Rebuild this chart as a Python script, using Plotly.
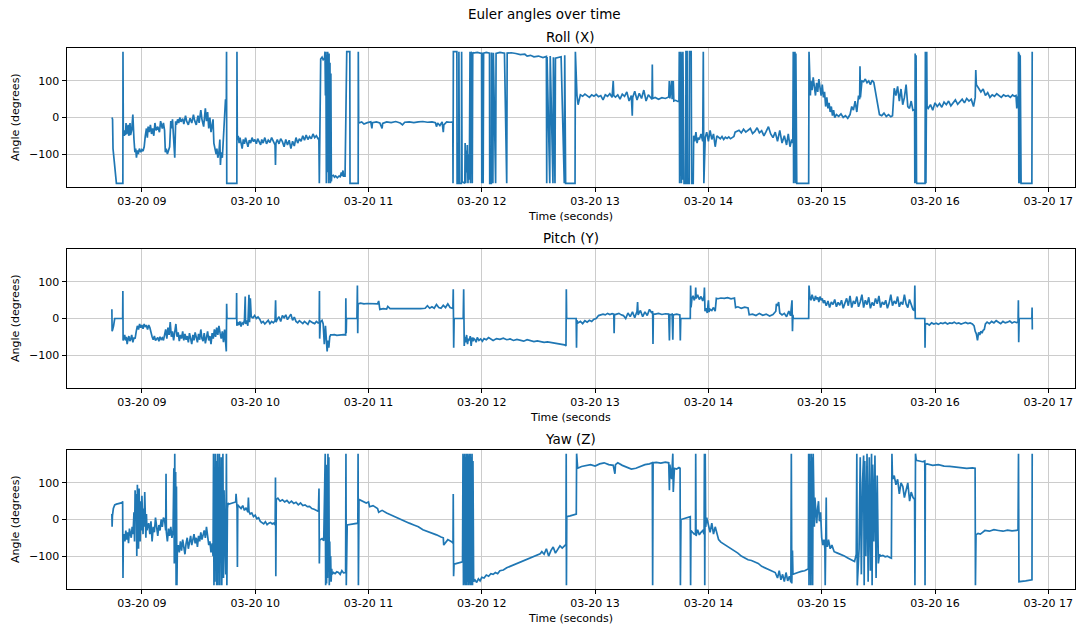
import pandas as pd
import plotly.graph_objects as go

# ---------------- data (time in decimal hours on 03-20, angles in degrees) ----------------
roll_hours = [
    8.736, 8.741, 8.745, 8.775, 8.832, 8.833, 8.836,
    8.845, 8.850, 8.855, 8.860, 8.865, 8.872, 8.878, 8.884, 8.890, 8.895, 8.900, 8.910, 8.920, 8.925,
    8.930, 8.938, 8.945, 8.952, 8.960, 8.968, 8.978, 8.990, 9.000, 9.010, 9.020,
    9.030, 9.040, 9.048, 9.055, 9.065, 9.075, 9.085, 9.095, 9.105, 9.115, 9.125, 9.140, 9.155, 9.165, 9.180, 9.190, 9.200,
    9.207, 9.215, 9.225, 9.235, 9.245, 9.255, 9.262, 9.270, 9.280, 9.290, 9.298,
    9.305, 9.315, 9.325, 9.335, 9.345, 9.360, 9.370, 9.385, 9.395, 9.410,
    9.425, 9.440, 9.455, 9.465, 9.480, 9.495, 9.505, 9.520, 9.530,
    9.545, 9.560, 9.570, 9.580, 9.590, 9.600, 9.610, 9.620,
    9.628, 9.635, 9.645, 9.655, 9.662, 9.670, 9.680, 9.688, 9.693, 9.700, 9.710, 9.718, 9.725, 9.732, 9.738,
    9.745, 9.747, 9.749, 9.838, 9.839, 9.842,
    9.850, 9.858, 9.866, 9.875, 9.885, 9.895, 9.905, 9.915, 9.925, 9.936,
    9.948, 9.960, 9.972, 9.985, 9.997, 10.010, 10.022, 10.035, 10.048, 10.058,
    10.070, 10.085, 10.100, 10.115, 10.130, 10.145, 10.160, 10.175, 10.179, 10.183,
    10.195, 10.210, 10.225, 10.240, 10.255, 10.270, 10.285, 10.300, 10.315, 10.330,
    10.345, 10.360, 10.375, 10.390, 10.405, 10.420, 10.435, 10.450, 10.465, 10.480,
    10.495, 10.510, 10.525, 10.540, 10.558,
    10.562, 10.566, 10.578, 10.590, 10.600, 10.612, 10.616, 10.620, 10.624, 10.628,
    10.632, 10.636, 10.640, 10.644, 10.648, 10.652, 10.656, 10.660, 10.664, 10.668, 10.672, 10.676,
    10.690, 10.700, 10.710, 10.725, 10.740, 10.750, 10.760, 10.765, 10.775, 10.780,
    10.793, 10.808, 10.835, 10.837, 10.909, 10.910, 10.913,
    10.940, 10.960, 10.990, 11.020, 11.030, 11.035, 11.070, 11.100, 11.120, 11.125,
    11.160, 11.200, 11.240, 11.280, 11.300, 11.320, 11.360, 11.400, 11.440, 11.480,
    11.520, 11.560, 11.590, 11.600, 11.610, 11.630, 11.650, 11.660, 11.665, 11.690,
    11.720, 11.744,
    11.746, 11.749, 11.780, 11.782, 11.796, 11.798, 11.802, 11.820, 11.822, 11.826,
    11.850, 11.853, 11.858, 11.862, 11.868, 11.872, 11.878, 11.884, 11.890, 11.896,
    11.900, 11.906, 11.910, 11.916, 11.920,
    11.925, 11.960, 11.998, 12.000, 12.004, 12.012, 12.016, 12.040, 12.068, 12.070,
    12.084, 12.086, 12.098, 12.102, 12.122, 12.126, 12.160, 12.200, 12.220, 12.224,
    12.260, 12.300, 12.340, 12.380, 12.400, 12.430, 12.460, 12.500, 12.540, 12.570,
    12.573, 12.576, 12.600, 12.604, 12.628, 12.632, 12.646, 12.650, 12.700, 12.728,
    12.732, 12.740, 12.823, 12.826, 12.840,
    12.850, 12.870, 12.890, 12.910, 12.930, 12.950, 12.970, 12.990, 13.010, 13.030,
    13.050, 13.070, 13.090, 13.110, 13.130, 13.150, 13.160, 13.165, 13.180, 13.200,
    13.220, 13.240, 13.260, 13.280, 13.300, 13.320, 13.328, 13.332, 13.350, 13.370,
    13.390, 13.410, 13.430, 13.450, 13.470, 13.490, 13.502, 13.505, 13.508, 13.530,
    13.560, 13.590, 13.620, 13.650, 13.655, 13.660, 13.676, 13.680, 13.690, 13.695,
    13.710, 13.730, 13.740,
    13.743, 13.746, 13.750, 13.754, 13.758, 13.762, 13.766, 13.770, 13.775, 13.780,
    13.785, 13.800, 13.802, 13.812, 13.815, 13.830, 13.833, 13.848, 13.852, 13.866,
    13.870, 13.880, 13.890, 13.900, 13.910, 13.920, 13.935, 13.950, 13.955, 13.960,
    13.968, 13.972,
    13.985, 14.000, 14.015, 14.030, 14.045, 14.060, 14.075, 14.090, 14.105, 14.120,
    14.135, 14.150, 14.165, 14.180, 14.195, 14.210, 14.225, 14.236, 14.250, 14.270,
    14.290, 14.310, 14.330, 14.350, 14.370, 14.390, 14.410, 14.430, 14.450, 14.470,
    14.490, 14.510, 14.530, 14.550, 14.570, 14.590, 14.610, 14.630, 14.650, 14.670,
    14.690, 14.705, 14.720, 14.735, 14.745,
    14.749, 14.752, 14.756, 14.760, 14.764, 14.768, 14.772, 14.776, 14.780, 14.885,
    14.888, 14.900,
    14.905, 14.915, 14.925, 14.935, 14.945, 14.955, 14.965, 14.975, 14.985, 14.995,
    15.005, 15.015, 15.025, 15.035, 15.045, 15.055, 15.065, 15.075, 15.085, 15.095,
    15.105, 15.115, 15.130, 15.150, 15.170, 15.190, 15.210, 15.230, 15.250, 15.265,
    15.280, 15.295, 15.310, 15.325, 15.335, 15.338, 15.342, 15.355, 15.370, 15.385,
    15.400, 15.415, 15.430, 15.445, 15.460, 15.475, 15.490, 15.500, 15.510, 15.530,
    15.550, 15.570, 15.590, 15.610, 15.625, 15.640, 15.655, 15.670, 15.685, 15.700,
    15.715, 15.730, 15.745, 15.760, 15.775, 15.790, 15.805, 15.820,
    15.822, 15.825, 15.829, 15.833, 15.837, 15.840, 15.912, 15.915, 15.920, 15.927,
    15.930,
    15.940, 15.960, 15.980, 16.000, 16.020, 16.040, 16.060, 16.080, 16.100, 16.120,
    16.140, 16.160, 16.180, 16.200, 16.220, 16.240, 16.260, 16.280, 16.300, 16.320,
    16.340, 16.355, 16.360, 16.365, 16.385, 16.405, 16.425, 16.445, 16.465, 16.485,
    16.505, 16.525, 16.545, 16.565, 16.585, 16.605, 16.625, 16.645, 16.665, 16.685,
    16.700, 16.715, 16.722, 16.730, 16.736,
    16.737, 16.740, 16.744, 16.748, 16.752, 16.756, 16.760, 16.855, 16.858,
]
roll_deg = [
    0, -5, -85, -180, -180, 180, -40,
    -50, -35, -48, -15, -45, -40, -20, -50, -42, -15, -48, -35, 8, -45,
    -60, -95, -85, -110, -90, -100, -85, -95, -88, -92, -80,
    -50, -30, -55, -25, -40, -20, -45, -30, -50, -15, -35, -25, -40, -10, -30, -15, -35,
    -95, -85, -100, -90, -80, -10, -30, -5, -60, -110, -10,
    -20, -5, -15, 0, -12, -3, -18, 5, -10, -20,
    -2, -15, 8, -8, -20, 5, -15, 20, -5,
    -25, 25, -10, 15, -30, 0, -40, -25,
    -5, -70, -90, -100, -85, -110, -95, -60, -130, -95, -110, -60, -20, 10, 50,
    30, 180, -180, -180, 180, -60,
    -50, -70, -55, -68, -85, -60, -72, -55, -65, -80,
    -62, -70, -55, -66, -60, -72, -58, -68, -75, -60,
    -70, -55, -72, -62, -68, -55, -65, -75, -130, -70,
    -60, -72, -58, -66, -80, -60, -75, -62, -85, -65,
    -78, -55, -70, -58, -65, -50, -62, -48, -60, -52,
    -58, -45, -55, -50, -60,
    -55, -180, 160, 165, 158, 162, 180, 60, 180, -180,
    170, -150, 180, 100, -180, 175, -170, 150, -180, 120, -175, -160,
    -158, -163, -160, -165, -160, -162, -150, -160, -145, -160,
    -160, 180, 180, -180, -180, 180, -15,
    -12, -18, -14, -12, -30, -14, -12, -15, -30, -16,
    -12, -14, -11, -15, -20, -13, -12, -14, -12, -11,
    -13, -12, -14, -25, -15, -22, -12, -40, -20, -12,
    -13, -12,
    -180, 180, 180, -180, -180, 180, -180, -180, 180, -175,
    -180, -70, -180, -90, -150, -75, -180, -100, -170, 180,
    -180, 180, 175, -180, 178,
    176, 178, 175, -180, 178, -180, 176, 178, 176, -180,
    -180, 178, -180, 177, -180, 175, 178, 176, -180, 176,
    177, 175, 172, 173, 168, 170, 166, 168, 164, 167,
    -180, 165, -180, 168, -180, 165, -180, 162, 166, -180,
    170, -180, -180, 180, 60,
    35, 62, 58, 64, 60, 55, 62, 58, 63, 57,
    60, 48, 62, 58, 65, 55, 100, 60, 56, 62,
    50, 64, 58, 70, 45, 60, 5, 55, 72, 48,
    66, 52, 75, 45, 62, 55, 50, 145, 52, 55,
    50, 54, 52, 56, 100, 52, 100, 50, 100, 45,
    47, 44, 45,
    180, -180, 170, -160, 180, -180, 175, -170, 180, -180,
    -180, -180, 180, 180, -180, -180, 180, 180, -180, -180,
    -50, -65, -40, -70, -55, -60, -45, -65, 180, -180,
    -110, -55,
    -40, -65, -35, -60, -45, -80, -50, -55, -58, -52,
    -60, -54, -57, -53, -58, -55, -52, -40, -38, -35,
    -42, -32, -40, -36, -30, -44, -38, -28, -42, -36,
    -50, -38, -25, -45, -55, -40, -65, -35, -70, -50,
    -75, -45, -80, -60, -70,
    180, -180, 170, -170, 180, -180, 175, -180, -180, -180,
    180, 60,
    100, 75, 110, 85, 60, 95, 70, 105, 80, 60,
    90, 55, 70, 30, 55, 25, 40, 15, 30, 5,
    20, 0, 8, 3, 10, 0, 5, -2, 8, 30,
    20, 45, 15, 60, 50, 140, 55, 100, 98, 105,
    95, 100, 90, 102, 96, 70, 40, 20, 8, 5,
    12, 3, 8, 2, 5, 80, 60, 85, 45, 78,
    35, 55, 90, 30, 25, 45, 20, 22,
    -180, 175, -180, 170, -175, -180, -180, 180, -180, 180,
    30,
    25, 35, 20, 40, 30, 38, 28, 42, 35, 45,
    32, 40, 48, 36, 44, 50, 40, 52, 45, 50,
    30, 55, 130, 90, 80, 70, 78, 60, 68, 55,
    62, 58, 65, 60, 55, 62, 58, 60, 55, 62,
    58, 60, 25, 55, 60,
    180, -180, 175, -180, 170, -180, -180, -180, 180,
]

pitch_hours = [
    8.735, 8.737, 8.742, 8.750, 8.760, 8.775, 8.800, 8.830, 8.832, 8.834,
    8.840, 8.848, 8.855, 8.862, 8.870, 8.878, 8.885, 8.893, 8.900, 8.910, 8.920, 8.930, 8.940,
    8.950, 8.960, 8.970, 8.980, 8.990, 9.000, 9.010, 9.020, 9.030, 9.040, 9.050, 9.060, 9.070, 9.080,
    9.09, 9.10, 9.11, 9.12, 9.13, 9.14, 9.15, 9.16, 9.17, 9.18, 9.19,
    9.20, 9.21, 9.22, 9.23, 9.24, 9.25, 9.26, 9.27, 9.28, 9.29, 9.30,
    9.31, 9.32, 9.33, 9.34, 9.35, 9.36, 9.37, 9.38, 9.39, 9.40, 9.41,
    9.42, 9.43, 9.44, 9.45, 9.46, 9.47, 9.48, 9.49, 9.50, 9.51, 9.52,
    9.53, 9.54, 9.55, 9.56, 9.57, 9.58, 9.59, 9.60, 9.61, 9.62, 9.63,
    9.64, 9.65, 9.66, 9.67, 9.68, 9.69, 9.70, 9.71, 9.72, 9.73,
    9.740, 9.745, 9.748, 9.751,
    9.760, 9.790, 9.820, 9.834, 9.836, 9.838, 9.845, 9.855, 9.865, 9.875,
    9.885, 9.895, 9.905, 9.912, 9.915, 9.925, 9.935, 9.945, 9.950, 9.957,
    9.965, 9.980, 9.995, 10.010, 10.025, 10.040, 10.055, 10.070, 10.085, 10.100,
    10.115, 10.130, 10.145, 10.160, 10.175, 10.180, 10.184, 10.195, 10.210, 10.225,
    10.240, 10.255, 10.270, 10.285, 10.300, 10.315, 10.330, 10.345, 10.360, 10.375,
    10.390, 10.405, 10.420, 10.435, 10.450, 10.465, 10.480, 10.495, 10.510, 10.525,
    10.540, 10.555, 10.565, 10.567, 10.569,
    10.575, 10.590, 10.600, 10.610, 10.620, 10.628, 10.635, 10.642, 10.650, 10.658,
    10.666, 10.680, 10.700, 10.720, 10.740, 10.760, 10.780, 10.798, 10.800, 10.803,
    10.806, 10.810, 10.840, 10.870, 10.898, 10.902, 10.905, 10.908,
    10.930, 10.960, 10.990, 11.020, 11.050, 11.080, 11.090, 11.095, 11.100, 11.130,
    11.160, 11.170, 11.190, 11.220, 11.260, 11.300, 11.340, 11.380, 11.420, 11.460,
    11.500, 11.520, 11.540, 11.560, 11.580, 11.600, 11.620, 11.640, 11.660, 11.680,
    11.700, 11.720, 11.740,
    11.745, 11.748, 11.752, 11.756, 11.800, 11.836, 11.840, 11.845, 11.850, 11.858,
    11.866, 11.874, 11.882, 11.890, 11.898, 11.906, 11.914, 11.922, 11.930, 11.940,
    11.950, 11.960, 11.975, 11.990, 12.005, 12.020, 12.040, 12.060, 12.080, 12.100,
    12.130, 12.160, 12.190, 12.220, 12.250, 12.280, 12.310, 12.340, 12.370, 12.400,
    12.430, 12.460, 12.490, 12.520, 12.550, 12.580, 12.610, 12.640, 12.670, 12.700,
    12.730, 12.743, 12.746, 12.749,
    12.790, 12.833, 12.836, 12.839, 12.850, 12.870, 12.890, 12.910, 12.930, 12.950,
    12.970, 12.990, 13.010, 13.030, 13.050, 13.070, 13.090, 13.110, 13.130, 13.150,
    13.165, 13.168, 13.171, 13.190, 13.210, 13.230, 13.250, 13.270, 13.290, 13.310,
    13.330, 13.350, 13.370, 13.375, 13.380, 13.400, 13.420, 13.440, 13.460, 13.480,
    13.500, 13.508, 13.511, 13.514, 13.530, 13.560, 13.590, 13.620, 13.650, 13.656,
    13.660, 13.680, 13.686, 13.690, 13.720, 13.748, 13.752, 13.756,
    13.800, 13.840, 13.843, 13.847, 13.855, 13.865, 13.875, 13.885, 13.888, 13.892,
    13.905, 13.920, 13.935, 13.950, 13.962, 13.965, 13.970, 13.980, 13.990, 14.000,
    14.005, 14.015, 14.030, 14.045, 14.060, 14.070, 14.085, 14.110, 14.140, 14.170,
    14.200, 14.230, 14.240, 14.260, 14.290, 14.320, 14.350, 14.360, 14.390, 14.420,
    14.450, 14.480, 14.510, 14.540, 14.570, 14.595, 14.600, 14.610, 14.620, 14.630,
    14.650, 14.670, 14.690, 14.710, 14.725, 14.738, 14.742, 14.746, 14.750, 14.800,
    14.850, 14.883,
    14.885, 14.888, 14.895, 14.905, 14.915, 14.925, 14.935, 14.945, 14.955, 14.965,
    14.975, 14.985, 14.995, 15.005, 15.015, 15.025, 15.040, 15.055, 15.070, 15.085,
    15.100, 15.115, 15.130, 15.145, 15.160, 15.175, 15.190, 15.205, 15.220, 15.235,
    15.250, 15.265, 15.280, 15.295, 15.310, 15.325, 15.340, 15.355, 15.370, 15.385,
    15.400, 15.415, 15.430, 15.445, 15.460, 15.475, 15.490, 15.505, 15.520, 15.535,
    15.550, 15.565, 15.580, 15.595, 15.610, 15.625, 15.640, 15.655, 15.670, 15.685,
    15.700, 15.715, 15.730, 15.745, 15.760, 15.775, 15.790, 15.805, 15.818, 15.822,
    15.826, 15.870, 15.910, 15.912, 15.915,
    15.930, 15.950, 15.970, 15.990, 16.010, 16.030, 16.050, 16.070, 16.090, 16.110,
    16.130, 16.150, 16.170, 16.190, 16.210, 16.230, 16.250, 16.270, 16.290, 16.310,
    16.330, 16.345, 16.355, 16.365, 16.375, 16.385, 16.395, 16.405, 16.415, 16.425,
    16.435, 16.445, 16.460, 16.480, 16.500, 16.520, 16.540, 16.560, 16.580, 16.600,
    16.620, 16.640, 16.660, 16.680, 16.700, 16.720, 16.733, 16.736, 16.739, 16.743,
    16.800, 16.855, 16.857, 16.859,
]
pitch_deg = [
    25, -35, -30, -20, 0, 0, 0, 0, 75, -60,
    -55, -45, -60, -50, -70, -55, -48, -62, -58, -45, -65, -52, -55,
    -35, -20, -30, -15, -25, -18, -28, -15, -22, -20, -30, -18, -25, -40,
    -50, -58, -48, -60, -55, -52, -62, -50, -57, -53, -60,
    -40, -30, -55, -25, -45, -10, -50, -35, -60, -40, -15,
    -50, -38, -62, -45, -55, -35, -60, -42, -58, -48, -65,
    -40, -55, -70, -45, -60, -38, -52, -65, -42, -58, -30,
    -55, -62, -40, -68, -50, -35, -60, -48, -70, -40, -55,
    -30, -50, -25, -45, -20, -40, -55, -35, -65, -30,
    -60, -90, 40, 0,
    0, 0, 0, 0, 70, -20, -10, -18, -8, -22,
    -12, -15, -5, 60, -15, -5, -20, 65, -10, 55,
    5, 2, 8, 0, 4, -2, -12, -8, -15, -10,
    -5, -14, -8, -12, -6, 50, -10, -2, 5, -8,
    8, 2, 10, -3, 6, 12, -5, 4, -8, -12,
    -6, -10, -14, -8, -12, -16, -6, -10, -12, -14,
    -8, -12, -10, 75, -55,
    -10, -5, -15, -70, -20, -85, -90, -60, -80, -50,
    -45, -45, -44, -46, -45, -45, -44, -45, 55, -40,
    0, 0, 0, 0, 0, 90, -40, 40,
    42, 40, 41, 40, 39, 40, 48, 30, 25, 27,
    26, 33, 27, 27, 26, 27, 27, 26, 27, 27,
    28, 35, 28, 32, 28, 38, 30, 28, 36, 30,
    40, 30, 28,
    30, 80, -80, 0, 0, 0, 80, -75, -50, -65,
    -45, -70, -55, -60, -48, -75, -52, -62, -55, -58,
    -65, -52, -60, -56, -62, -55, -58, -52, -56, -60,
    -55, -57, -54, -58, -56, -60, -57, -59, -62, -58,
    -60, -63, -61, -63, -65, -64, -66, -67, -68, -70,
    -72, -75, 80, 0,
    0, 0, -80, -5, -12, -8, -14, -6, -10, -5,
    -8, -2, 0, 8, 10, 12, 10, 14, 11, 13,
    12, -40, 10, 12, 14, 10, 8, 0, 15, 5,
    18, 2, 20, 45, 10, 22, 5, 18, 8, 25,
    15, 20, -70, 12, 12, 14, 11, 13, 12, -60,
    10, 12, -58, 10, 12, 10, -60, 0,
    0, 0, 90, 30, 55, 62, 50, 60, 85, 55,
    65, 52, 60, 48, 62, 85, 20, 28, 15, 50,
    18, 25, 22, 30, 20, 55, 54, 56, 55, 57,
    54, 56, 30, 32, 28, 31, 29, 10, 12, 8,
    14, 9, 12, 7, 11, 20, 40, 35, 45, 15,
    10, 14, 5, 20, 8, 50, -35, 10, 0, 0,
    0, 0,
    0, 90, 60, 50, 65, 55, 48, 62, 52, 58,
    45, 60, 50, 55, 42, 50, 35, 48, 30, 45,
    38, 52, 32, 44, 36, 50, 28, 42, 55, 35,
    62, 30, 48, 40, 60, 32, 45, 65, 30, 50,
    38, 58, 28, 44, 35, 55, 40, 62, 30, 45,
    38, 50, 28, 42, 65, 35, 48, 40, 60, 32,
    45, 38, 65, 40, 30, 52, 35, 25, 22, 90,
    0, 0, 0, -80, -15,
    -14, -18, -12, -15, -13, -16, -12, -14, -11, -15,
    -12, -13, -10, -14, -12, -15, -13, -11, -14, -12,
    -15, -20, -35, -42, -60, -38, -45, -35, -40, -32,
    -30, -15, -10, -14, -8, -12, -6, -10, -14, -8,
    -12, -10, -7, -12, -9, -11, -10, 50, -65, 0,
    0, 0, 30, -30,
]

yaw_hours = [
    8.735, 8.737, 8.740, 8.748, 8.760, 8.775, 8.800, 8.826, 8.830, 8.833, 8.836,
    8.842, 8.850, 8.858, 8.866, 8.874, 8.882, 8.890, 8.898, 8.906, 8.914,
    8.922, 8.930, 8.935, 8.940, 8.945, 8.950, 8.955, 8.960, 8.965, 8.970,
    8.975, 8.980, 8.985, 8.990, 8.995, 9.000, 9.005, 9.010, 9.015, 9.020,
    9.025, 9.030, 9.035, 9.040, 9.045, 9.050,
    9.060, 9.070, 9.080, 9.090, 9.100, 9.110, 9.120, 9.130, 9.140, 9.150,
    9.160, 9.170, 9.180, 9.190, 9.200, 9.210, 9.213, 9.216, 9.225, 9.235,
    9.245, 9.255, 9.265, 9.275, 9.282, 9.286, 9.290, 9.294, 9.298, 9.302,
    9.305, 9.309, 9.313,
    9.320, 9.330, 9.340, 9.350, 9.360, 9.370, 9.380, 9.390, 9.400, 9.410,
    9.420, 9.430, 9.440, 9.450, 9.460, 9.470, 9.480, 9.490, 9.500, 9.510,
    9.520, 9.530, 9.540, 9.550, 9.560, 9.570, 9.580, 9.590, 9.600, 9.610,
    9.620, 9.628,
    9.632, 9.636, 9.640, 9.644, 9.648, 9.652, 9.656, 9.660, 9.664, 9.668,
    9.672, 9.676, 9.680, 9.684, 9.688, 9.692, 9.696, 9.700, 9.705, 9.710,
    9.715, 9.720, 9.725, 9.732, 9.740, 9.746, 9.750, 9.755, 9.760,
    9.770, 9.785, 9.800, 9.815, 9.828, 9.831, 9.834, 9.840, 9.843, 9.846,
    9.860, 9.875, 9.890, 9.905, 9.920, 9.935, 9.940, 9.945, 9.955, 9.970,
    9.985, 10.000, 10.015, 10.030, 10.045, 10.060, 10.075, 10.090, 10.105, 10.120,
    10.135, 10.150, 10.165, 10.176, 10.179, 10.182, 10.186, 10.200, 10.220, 10.240,
    10.260, 10.280, 10.300, 10.320, 10.340, 10.360, 10.380, 10.400, 10.420, 10.440,
    10.460, 10.480, 10.500, 10.520, 10.540, 10.558, 10.563, 10.566, 10.569,
    10.575, 10.590, 10.605, 10.618, 10.622, 10.626, 10.630, 10.634, 10.638, 10.642,
    10.646, 10.650, 10.654, 10.658, 10.662, 10.666, 10.670, 10.675, 10.680, 10.690,
    10.705, 10.720, 10.735, 10.750, 10.765, 10.780, 10.798, 10.801, 10.804, 10.812,
    10.830, 10.860, 10.890, 10.906, 10.908, 10.911, 10.916,
    10.940, 10.980, 11.000, 11.010, 11.040, 11.080, 11.090, 11.120, 11.160, 11.200,
    11.240, 11.280, 11.320, 11.360, 11.400, 11.440, 11.480, 11.520, 11.560, 11.600,
    11.640, 11.660, 11.664, 11.700, 11.740,
    11.746, 11.748, 11.751, 11.755, 11.780, 11.810, 11.830, 11.834, 11.838, 11.842,
    11.846, 11.850, 11.854, 11.858, 11.862, 11.866, 11.870, 11.874, 11.878, 11.882,
    11.886, 11.890, 11.894, 11.898, 11.902, 11.906, 11.910, 11.914, 11.918, 11.922,
    11.928, 11.940, 11.955, 11.970, 11.985, 12.000, 12.020, 12.040, 12.060, 12.080,
    12.100, 12.120, 12.140, 12.160, 12.190, 12.220, 12.250, 12.280, 12.310, 12.340,
    12.370, 12.400, 12.430, 12.460, 12.490, 12.515,
    12.530, 12.550, 12.570, 12.590, 12.610, 12.630, 12.650, 12.670, 12.690, 12.710,
    12.730, 12.743, 12.745, 12.747, 12.750, 12.780, 12.810, 12.834, 12.837, 12.846,
    12.880, 12.920, 12.960, 13.000, 13.040, 13.080, 13.120, 13.160, 13.175, 13.180,
    13.200, 13.240, 13.280, 13.320, 13.360, 13.400, 13.440, 13.480, 13.505, 13.508,
    13.512, 13.540, 13.580, 13.620, 13.650, 13.656, 13.660, 13.675, 13.680, 13.686,
    13.690, 13.700, 13.720, 13.740, 13.750, 13.753, 13.758,
    13.780, 13.810, 13.840, 13.843, 13.846, 13.860, 13.875, 13.886, 13.888, 13.891,
    13.905, 13.920, 13.935, 13.950, 13.962, 13.965, 13.968, 13.972, 13.976, 13.985,
    14.000, 14.015, 14.030, 14.045, 14.060, 14.075, 14.090, 14.110, 14.140, 14.170,
    14.200, 14.230, 14.260, 14.290, 14.320, 14.350, 14.380, 14.410, 14.440, 14.470,
    14.500, 14.530, 14.560, 14.590, 14.610, 14.625, 14.640, 14.655, 14.670, 14.685,
    14.700, 14.715, 14.728, 14.732, 14.736, 14.742, 14.746,
    14.760, 14.790, 14.820, 14.850, 14.875, 14.882, 14.885, 14.888, 14.892, 14.896,
    14.900, 14.904, 14.908, 14.912, 14.916, 14.920, 14.925, 14.930, 14.935, 14.940,
    14.948, 14.956, 14.964, 14.972, 14.980, 14.990, 15.000, 15.010, 15.020, 15.028,
    15.031, 15.035, 15.040, 15.043,
    15.050, 15.060, 15.075, 15.090, 15.110, 15.140, 15.170, 15.200, 15.230, 15.260,
    15.290, 15.305, 15.310, 15.314, 15.320, 15.330, 15.340, 15.350, 15.360, 15.370,
    15.375, 15.380, 15.390, 15.400, 15.410, 15.420, 15.430, 15.440, 15.445, 15.450,
    15.460, 15.470, 15.480, 15.490, 15.500, 15.510, 15.520, 15.540, 15.560, 15.580,
    15.600, 15.615, 15.620, 15.625,
    15.640, 15.655, 15.670, 15.685, 15.700, 15.716, 15.730, 15.745, 15.760, 15.776,
    15.790, 15.806, 15.820, 15.823, 15.828, 15.835, 15.860, 15.890, 15.910, 15.912,
    15.915, 15.930, 15.980, 16.030, 16.080, 16.130, 16.180, 16.230, 16.280, 16.330,
    16.354, 16.357, 16.362, 16.380, 16.400, 16.420, 16.440, 16.480, 16.520, 16.560,
    16.600, 16.640, 16.680, 16.720, 16.733, 16.737, 16.741, 16.800, 16.856, 16.858,
]
yaw_deg = [
    15, -20, 10, 30, 40, 42, 44, 46, 50, -160, -55,
    -40, -60, -30, -55, -35, -65, -25, -45, -50, -20,
    -40, 20, -60, 80, 0, 70, -100, 95, 40, -80,
    85, 20, -60, 50, -30, 65, 10, -40, 30, -20,
    75, -10, -50, 15, -30, -20,
    -10, -40, -5, -60, -20, -35, 5, -25, -45, -15,
    -30, 0, -20, 5, 0, -30, 125, -35, -60, -25,
    -45, -20, -50, -30, 140, -120, 180, -90, 130, -180,
    90, -180, -80,
    -70, -90, -60, -85, -55, -75, -95, -65, -50, -80,
    -60, -45, -70, -55, -40, -65, -50, -75, -45, -60,
    -35, -55, -40, -30, -50, -20, -45, -70, -60, -90,
    -65, -100,
    180, -180, 120, -170, 180, -60, 160, -180, 40, 180,
    -180, 100, -120, 180, -180, 60, -90, 170, -180, 20,
    180, -160, 80, -40, -150, 180, -180, 30, 45,
    42, 44, 45, 46, 48, 70, 45, 30, -130, 40,
    35, 30, 38, 25, 32, 20, 60, 22, 15, 18,
    8, 12, 2, 5, -5, -8, -12, -6, -14, -10,
    -8, -12, -10, -15, 115, -155, 55, 58, 50, 54,
    48, 52, 45, 50, 44, 47, 40, 45, 38, 40,
    35, 36, 30, 28, 25, 22, 85, -120, -55,
    -55, -52, -58, 180, -180, 150, -175, 100, -160, 180,
    -120, 170, -180, -60, -150, -100, -170, -135, -150, -145,
    -148, -143, -145, -150, -140, -146, -145, 180, -180, -15,
    -14, -13, -12, -10, 180, -180, 55,
    52, 45, 48, 35, 38, 30, 20, 25, 18, 12,
    8, 2, -5, -10, -15, -20, -28, -32, -38, -42,
    -48, -50, -70, -55, -62,
    -65, 70, -155, -122, -120, -118, -116, 180, -180, 175,
    -175, 180, -180, 170, -180, 180, -170, 180, -180, 175,
    -180, 180, -175, 180, -180, 170, -180, 180, -180, 160,
    -170, -165, -172, -162, -168, -158, -160, -152, -155, -148,
    -150, -145, -148, -140, -138, -132, -128, -125, -120, -116,
    -112, -108, -104, -100, -97, -94,
    -88, -95, -80, -100, -85, -75, -92, -80, -72, -78,
    -70, -68, 180, -180, 8, 10, 12, 15, 180, 140,
    145, 148, 150, 146, 152, 155, 150, 148, 125, 150,
    155, 148, 142, 138, 140, 146, 150, 152, 155, -180,
    155, 156, 154, 157, 155, 80, 150, 110, 155, 180,
    75, 140, 138, 142, 140, -180, 0,
    2, 5, 8, -180, -30, -35, -40, -38, 180, -45,
    -28, -42, -35, -30, -40, 180, -180, 180, -20, 5,
    -15, -35, -10, -40, -20, -38, -55, -62, -68, -72,
    -80, -85, -92, -100, -105, -110, -112, -115, -120, -128,
    -132, -138, -140, -145, -160, -140, -165, -150, -170, -145,
    -168, -155, -172, 180, -175, -85, -150,
    -148, -145, -142, -140, -136, -135, 180, -180, 180, -150,
    160, -180, 180, -100, 170, -180, 180, 40, -20, 60,
    10, -10, 30, 50, -5, 20, -50, -70, -55, -80,
    -180, -60, 60, -65,
    -75, -55, -80, -70, -88, -92, -95, -100, -105, -110,
    -115, -95, 180, -180, -120, -80, 170, -150, 100, 175,
    -180, 160, -100, 180, -170, 170, -140, 180, -180, 150,
    -60, 175, -160, 120, -120, -95, -100, -98, -102, -100,
    -104, -106, 180, 110,
    120, 95, 110, 70, 100, 90, 60, 85, 100, 50,
    75, 60, 55, -180, 180, 162, 160, 158, 160, -180,
    150, 152, 148, 150, 146, 145, 143, 142, 140, 141,
    140, -180, -42, -38, -40, -35, -30, -32, -28, -30,
    -32, -29, -31, -30, -28, 180, -170, -168, -165, 180,
]

assert len(roll_hours) == len(roll_deg), (len(roll_hours), len(roll_deg))
assert len(pitch_hours) == len(pitch_deg), (len(pitch_hours), len(pitch_deg))
assert len(yaw_hours) == len(yaw_deg), (len(yaw_hours), len(yaw_deg))

panel_titles = ["Roll (X)", "Pitch (Y)", "Yaw (Z)"]
xlabels = ["Time (seconds)", "Time (seconds", "Time (seconds)"]
ylabel = "Angle (degrees)"
suptitle = "Euler angles over time"
y_ticks = [-100, 0, 100]
y_ticktext = ["\u2212100", "0", "100"]

BASE = pd.Timestamp("2024-03-20")


def to_dt(hours):
    return [BASE + pd.Timedelta(hours=h) for h in hours]


# ---------------- figure ----------------
W, H = 1076, 625
FONT = "DejaVu Sans"
BLUE = "#1f77b4"

x_dom = [66.5 / W, 1075 / W]
panels_px = [(48, 187), (249, 388), (450, 589)]  # top/bottom pixel of each axes box

fig = go.Figure()
series = [(roll_hours, roll_deg), (pitch_hours, pitch_deg), (yaw_hours, yaw_deg)]
for i, (hrs, deg) in enumerate(series):
    sfx = "" if i == 0 else str(i + 1)
    fig.add_trace(go.Scatter(
        x=to_dt(hrs), y=deg, mode="lines",
        line=dict(color=BLUE, width=1.7),
        xaxis="x" + sfx, yaxis="y" + sfx, showlegend=False, hoverinfo="skip",
    ))

x_range = [BASE + pd.Timedelta(hours=8.3345), BASE + pd.Timedelta(hours=17.2357)]

layout = dict(
    width=W, height=H,
    margin=dict(l=0, r=0, t=0, b=0),
    paper_bgcolor="white", plot_bgcolor="white",
    font=dict(family=FONT, size=11, color="black"),
    showlegend=False,
)
annotations = [dict(text=suptitle, x=544 / W, y=1 - 14 / H, xref="paper", yref="paper",
                    showarrow=False, font=dict(size=13.5, family=FONT, color="black"),
                    xanchor="center", yanchor="middle")]

for i, (top, bot) in enumerate(panels_px):
    sfx = "" if i == 0 else str(i + 1)
    ydom = [1 - bot / H, 1 - top / H]
    layout["xaxis" + sfx] = dict(
        domain=x_dom, anchor="y" + sfx, type="date", range=x_range,
        tick0=BASE + pd.Timedelta(hours=9), dtick=3600000, tickformat="%m-%d %H",
        showgrid=True, gridcolor="#cccccc", gridwidth=1,
        showline=True, linecolor="black", linewidth=1, mirror=True,
        ticks="outside", ticklen=4, tickwidth=1, tickcolor="black",
        tickfont=dict(size=11, family=FONT, color="black"), zeroline=False,
    )
    layout["yaxis" + sfx] = dict(
        domain=ydom, anchor="x" + sfx, range=[-190, 190],
        tickvals=y_ticks, ticktext=y_ticktext,
        showgrid=True, gridcolor="#cccccc", gridwidth=1,
        showline=True, linecolor="black", linewidth=1, mirror=True,
        ticks="outside", ticklen=4, tickwidth=1, tickcolor="black",
        tickfont=dict(size=11, family=FONT, color="black"), zeroline=False,
    )
    cx = (x_dom[0] + x_dom[1]) / 2
    annotations.append(dict(text=panel_titles[i], x=cx, y=1 - (top - 11.5) / H,
                            xref="paper", yref="paper", showarrow=False,
                            font=dict(size=13.5, family=FONT, color="black"),
                            xanchor="center", yanchor="middle"))
    annotations.append(dict(text=xlabels[i], x=cx, y=1 - (bot + 29) / H,
                            xref="paper", yref="paper", showarrow=False,
                            font=dict(size=11, family=FONT, color="black"),
                            xanchor="center", yanchor="middle"))
    annotations.append(dict(text=ylabel, x=15.5 / W, y=1 - (top + bot) / 2 / H,
                            xref="paper", yref="paper", showarrow=False, textangle=-90,
                            font=dict(size=11, family=FONT, color="black"),
                            xanchor="center", yanchor="middle"))

layout["annotations"] = annotations
fig.update_layout(**layout)
fig.write_html(
    "out.html",
    config={"displayModeBar": False, "staticPlot": True},
    post_script="document.body.style.margin='0px';document.body.style.overflow='hidden';",
)
